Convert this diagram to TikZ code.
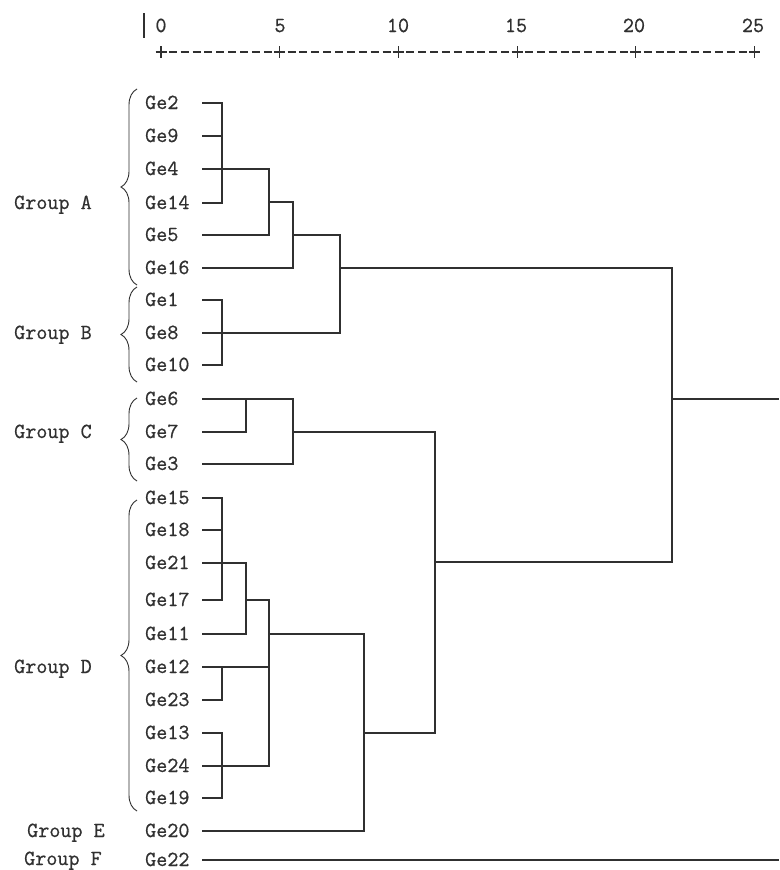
\documentclass[tikz,border=0pt]{standalone}
\usepackage{fontspec}
\newfontfamily\dendfont[FakeBold=0.7]{Latin Modern Mono}
\usetikzlibrary{decorations.pathreplacing}
\definecolor{ink}{HTML}{303030}
\begin{document}
\begin{tikzpicture}[x={(1pt,0pt)},y={(0pt,-1pt)},
  lbl/.style={font=\dendfont\fontsize{21.5}{22}\selectfont, text=ink, inner sep=0pt, anchor=base west},
  num/.style={font=\dendfont\fontsize{21.5}{22}\selectfont, text=ink, inner sep=0pt, anchor=base},
  tree/.style={draw=ink, line width=1.3pt, line cap=rect},
  axisline/.style={draw=ink, line width=1.2pt},
  grpbrace/.style={draw=ink, line width=0.9pt, decorate, decoration={brace, amplitude=16pt, aspect=0.5}}]
\useasboundingbox (0,0) rectangle (779,870);
\fill[white] (0,0) rectangle (779,870);

% axis
\draw[draw=ink, line width=2.8pt] (144,13) -- (144,38);
\foreach \v/\xx in {0/161,5/280,10/398,15/516,20/634,25/753}{
  \node[num] (n\v) at (\xx,32) {\v};
}
\foreach \k in {0,...,5}{
  \pgfmathsetmacro{\px}{161+\k*118.7}
  \draw[axisline] (\px-5.5,52) -- (\px+5.5,52);
  \draw[axisline] (\px,46) -- (\px,58);
}
\foreach \k in {0,...,4}{
  \foreach \j in {1,...,9}{
    \pgfmathsetmacro{\dx}{161+\k*118.7+\j*11.87}
    \draw[axisline] (\dx-4,52) -- (\dx+4,52);
  }
}

% leaf labels and leaf anchor coordinates
\foreach \g/\yy in {2/103,9/136,4/169,14/203,5/235,16/268,1/300,8/333,10/365,6/399,7/432,3/464,15/498,18/530,21/563,17/600,11/634,12/667,23/700,13/733,24/766,19/798,20/831,22/860}{
  \node[lbl] (ge\g) at (145,\yy+6) {Ge\g};
  \coordinate (l\g) at (203,\yy);
}

% group labels
\node[lbl] (gA) at (14,203+6) {Group A};
\node[lbl] (gB) at (14,333+6) {Group B};
\node[lbl] (gC) at (14,432+6) {Group C};
\node[lbl] (gD) at (14,667+6) {Group D};
\node[lbl] (gE) at (27,831+6) {Group E};
\node[lbl] (gF) at (24,860+5) {Group F};

% braces
\draw[grpbrace] (137,285) -- (137,89);
\draw[grpbrace] (137,382) -- (137,287);
\draw[grpbrace] (137,481) -- (137,398);
\draw[grpbrace] (137,811) -- (137,500);

% merge points
\coordinate (mA1) at (222,203);
\coordinate (mA2) at (269,202);
\coordinate (mA3) at (293,235);
\coordinate (mAB) at (340,268);
\coordinate (mB1) at (222,333);
\coordinate (mC1) at (246,432);
\coordinate (mC2) at (293,432);
\coordinate (mD1) at (222,563);
\coordinate (mD2) at (246,600);
\coordinate (mD3) at (222,667);
\coordinate (mD4) at (222,766);
\coordinate (mD5) at (269,634);
\coordinate (mDE) at (364,733);
\coordinate (mCDE) at (435,562);
\coordinate (root) at (672,399);
\coordinate (rend) at (778,399);
\coordinate (fend) at (778,860);

% group A
\draw[tree] (l2) -| (mA1);
\draw[tree] (l9) -- (l9 -| mA1);
\draw[tree] (l14) -| (mA1);
\draw[tree] (l4) -| (mA2) |- (l5);
\draw[tree] (mA2) -| (mA3) |- (l16);
\draw[tree] (mA3) -| (mAB);
% group B
\draw[tree] (l1) -| (mB1) |- (l10);
\draw[tree] (l8) -| (mAB);
\draw[tree] (mAB) -| (root);
% group C
\draw[tree] (l7) -| (mC1) |- (l6);
\draw[tree] (l6) -| (mC2) |- (l3);
\draw[tree] (mC2) -| (mCDE);
% group D
\draw[tree] (l15) -| (mD1) |- (l17);
\draw[tree] (l18) -- (l18 -| mD1);
\draw[tree] (l21) -| (mD2) |- (l11);
\draw[tree] (mD2) -| (mD5);
\draw[tree] (l12) -| (mD3) |- (l23);
\draw[tree] (l13) -| (mD4) |- (l19);
\draw[tree] (l24) -| (mD5);
\draw[tree] (l12) -- (l12 -| mD5);
\draw[tree] (mD5) -| (mDE) |- (l20);
\draw[tree] (mDE) -| (mCDE);
\draw[tree] (mCDE) -| (root);
\draw[tree] (root) -- (rend);
\draw[tree] (l22) -- (fend);
\end{tikzpicture}
\end{document}
